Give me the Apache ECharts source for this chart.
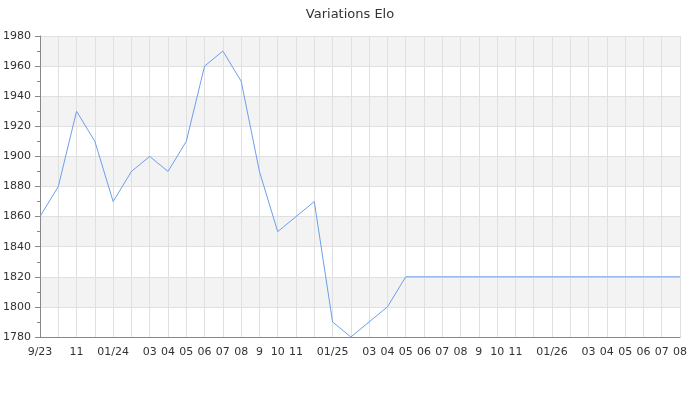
<!DOCTYPE html>
<html><head><meta charset="utf-8">
<script src="https://cdn.jsdelivr.net/npm/echarts@6/dist/echarts.min.js"></script>
<style>html,body{margin:0;padding:0;background:#fff}#c{width:700px;height:400px}</style>
</head><body><div id="c"></div>
<script>
var months = ["2023-09","2023-10","2023-11","2023-12","2024-01","2024-02","2024-03","2024-04","2024-05","2024-06","2024-07","2024-08","2024-09","2024-10","2024-11","2024-12","2025-01","2025-02","2025-03","2025-04","2025-05","2025-06","2025-07","2025-08","2025-09","2025-10","2025-11","2025-12","2026-01","2026-02","2026-03","2026-04","2026-05","2026-06","2026-07","2026-08"];
var tickLabels = ["9/23","","11","","01/24","","03","04","05","06","07","08","9","10","11","","01/25","","03","04","05","06","07","08","9","10","11","","01/26","","03","04","05","06","07","08"];
var elo = [1860,1880,1930,1910,1870,1890,1900,1890,1910,1960,1970,1950,1890,1850,1860,1870,1790,1780,1790,1800,1820,1820,1820,1820,1820,1820,1820,1820,1820,1820,1820,1820,1820,1820,1820,1820];
var yTicks = {min:1780, max:1980, interval:20};

var chart = echarts.init(document.getElementById('c'), null, {renderer:'canvas'});
chart.setOption({
  animation:false,
  textStyle:{fontFamily:'DejaVu Sans'},
  title:{text:'Variations Elo', left:'center', top:3, textStyle:{fontSize:13, fontWeight:'normal', color:'#333', fontFamily:'DejaVu Sans'}},
  grid:{left:40, right:20, top:36, bottom:63, containLabel:false, outerBoundsMode:'none'},
  xAxis:{
    type:'category', data:months, boundaryGap:false,
    axisLine:{lineStyle:{color:'#888'}},
    axisTick:{show:false},
    axisLabel:{interval:0, margin:10, color:'#333', fontSize:11, fontFamily:'DejaVu Sans',
      formatter:function(v, i){return tickLabels[i];}},
    splitLine:{show:true, interval:0, lineStyle:{color:'#e0e0e0'}}
  },
  yAxis:{
    type:'value', min:yTicks.min, max:yTicks.max, interval:yTicks.interval,
    axisLine:{show:true, lineStyle:{color:'#888'}},
    axisTick:{show:true, length:5, lineStyle:{color:'#888'}},
    minorTick:{show:true, splitNumber:2, length:3, lineStyle:{color:'#888'}},
    axisLabel:{color:'#333', fontSize:11, margin:9, fontFamily:'DejaVu Sans', formatter:function(v){return String(v);}},
    splitLine:{show:true, lineStyle:{color:'#e0e0e0'}},
    splitArea:{show:true, areaStyle:{color:['#ffffff','#f3f3f3']}}
  },
  series:[{type:'line', data:elo, symbol:'none', lineStyle:{color:'#6d9eeb', width:1}, itemStyle:{color:'#6d9eeb'}}]
});
</script></body></html>
